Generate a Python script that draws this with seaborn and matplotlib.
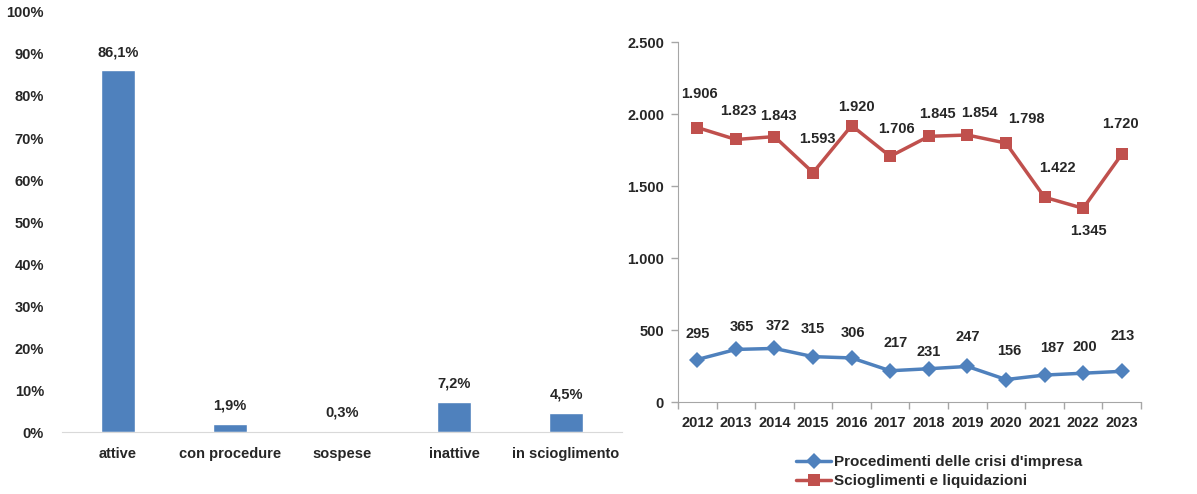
#Stato delle imprese (sinistra) e andamento procedure / scioglimenti 2012-2023 (destra)

import pandas as pd
import numpy as np
import seaborn as sns
import matplotlib.pyplot as plt

#dati
stati = ['attive', 'con procedure', 'sospese', 'inattive', 'in scioglimento']
quote = [86.1, 1.9, 0.3, 7.2, 4.5]

anni = [2012, 2013, 2014, 2015, 2016, 2017, 2018, 2019, 2020, 2021, 2022, 2023]
procedimenti = [295, 365, 372, 315, 306, 217, 231, 247, 156, 187, 200, 213]
scioglimenti = [1906, 1823, 1843, 1593, 1920, 1706, 1845, 1854, 1798, 1422, 1345, 1720]

serie_proc = "Procedimenti delle crisi d'impresa"
serie_scio = "Scioglimenti e liquidazioni"

#spostamento etichette (pixel) rispetto ai punti
off_proc = [(0, 26), (6, 22), (3, 22), (0, 28), (1, 25), (5, 28), (0, 17), (0, 29), (3, 29), (8, 27), (2, 26), (1, 35)]
off_scio = [(2, 34), (3, 28), (4, 21), (4, 34), (5, 19), (6, 27), (9, 22), (12, 22), (20, 24), (13, 29), (5, -23), (-1, 30)]

sns.set_style('white')
plt.rcParams['font.family'] = ['Liberation Sans', 'DejaVu Sans']
plt.rcParams['font.weight'] = 'bold'

blu = '#4F81BD'
rosso = '#C0504D'
grigio = '#A6A6A6'
fs = 10.5

fig = plt.figure(figsize=(11.97, 4.94), dpi=100)

#grafico a barre
ax1 = fig.add_axes([62/1197, 1-432/494, 560/1197, 420/494])
df_bar = pd.DataFrame({'stato': stati, 'quota': quote})
sns.barplot(data=df_bar, x='stato', y='quota', color=blu, width=0.31, saturation=1, ax=ax1)
ax1.set_xlim(-0.5, 4.5)
ax1.set_ylim(0, 100)
ax1.set_yticks(np.arange(0, 101, 10))
ax1.set_yticklabels([f'{v}%' for v in range(0, 101, 10)], fontsize=fs, fontweight='bold')
ax1.set_xticklabels(stati, fontsize=fs, fontweight='bold')
ax1.tick_params(axis='both', length=0)
ax1.tick_params(axis='y', pad=13)
ax1.tick_params(axis='x', pad=11)
ax1.set_xlabel('')
ax1.set_ylabel('')
for s in ['top', 'right', 'left']:
    ax1.spines[s].set_visible(False)
ax1.spines['bottom'].set_color('#D9D9D9')
for i, v in enumerate(quote):
    ax1.annotate(f'{v:.1f}%'.replace('.', ','), (i, v), xytext=(0, 8), textcoords='offset points',
                 ha='center', va='bottom', fontsize=fs, fontweight='bold')

#grafico a linee
ax2 = fig.add_axes([678/1197, 1-402/494, 463/1197, 360/494])
df_lin = pd.DataFrame({
    'anno': anni * 2,
    'valore': procedimenti + scioglimenti,
    'serie': [serie_proc] * len(anni) + [serie_scio] * len(anni),
})
sns.lineplot(data=df_lin, x='anno', y='valore', hue='serie', style='serie',
             hue_order=[serie_proc, serie_scio], style_order=[serie_proc, serie_scio],
             palette=[blu, rosso], markers={serie_proc: 'D', serie_scio: 's'}, dashes=False,
             linewidth=2.5, markersize=8, markeredgewidth=0, ax=ax2)
ax2.set_xlim(anni[0] - 0.5, anni[-1] + 0.5)
ax2.set_ylim(0, 2500)
ax2.set_yticks(np.arange(0, 2501, 500))
ax2.set_yticklabels([f'{v:,}'.replace(',', '.') for v in range(0, 2501, 500)], fontsize=fs, fontweight='bold')
ax2.set_xticks(anni)
ax2.set_xticklabels([str(a) for a in anni], fontsize=fs, fontweight='bold')
ax2.set_xticks(np.arange(anni[0] - 0.5, anni[-1] + 0.6, 1), minor=True)
ax2.tick_params(axis='x', which='major', length=0, pad=10)
ax2.tick_params(axis='x', which='minor', length=5, color=grigio, width=1, direction='out', bottom=True)
ax2.tick_params(axis='y', length=5, color=grigio, width=1, direction='out', left=True, pad=5)
ax2.set_xlabel('')
ax2.set_ylabel('')
for s in ['top', 'right']:
    ax2.spines[s].set_visible(False)
for s in ['left', 'bottom']:
    ax2.spines[s].set_color(grigio)

px = 0.72  #punti per pixel a 100 dpi
for a, v, (dx, dy) in zip(anni, procedimenti, off_proc):
    ax2.annotate(str(v), (a, v), xytext=(dx*px, dy*px), textcoords='offset points',
                 ha='center', va='center', fontsize=fs, fontweight='bold')
for a, v, (dx, dy) in zip(anni, scioglimenti, off_scio):
    ax2.annotate(f'{v:,}'.replace(',', '.'), (a, v), xytext=(dx*px, dy*px), textcoords='offset points',
                 ha='center', va='center', fontsize=fs, fontweight='bold')

leg = ax2.legend(loc='upper left', bbox_to_anchor=(112/463, -0.13), frameon=False,
                 fontsize=fs+0.5, handlelength=2.3, handletextpad=0.2, labelspacing=0.35, borderaxespad=0)
for t in leg.get_texts():
    t.set_fontweight('bold')

plt.savefig('out.png', dpi=100)
